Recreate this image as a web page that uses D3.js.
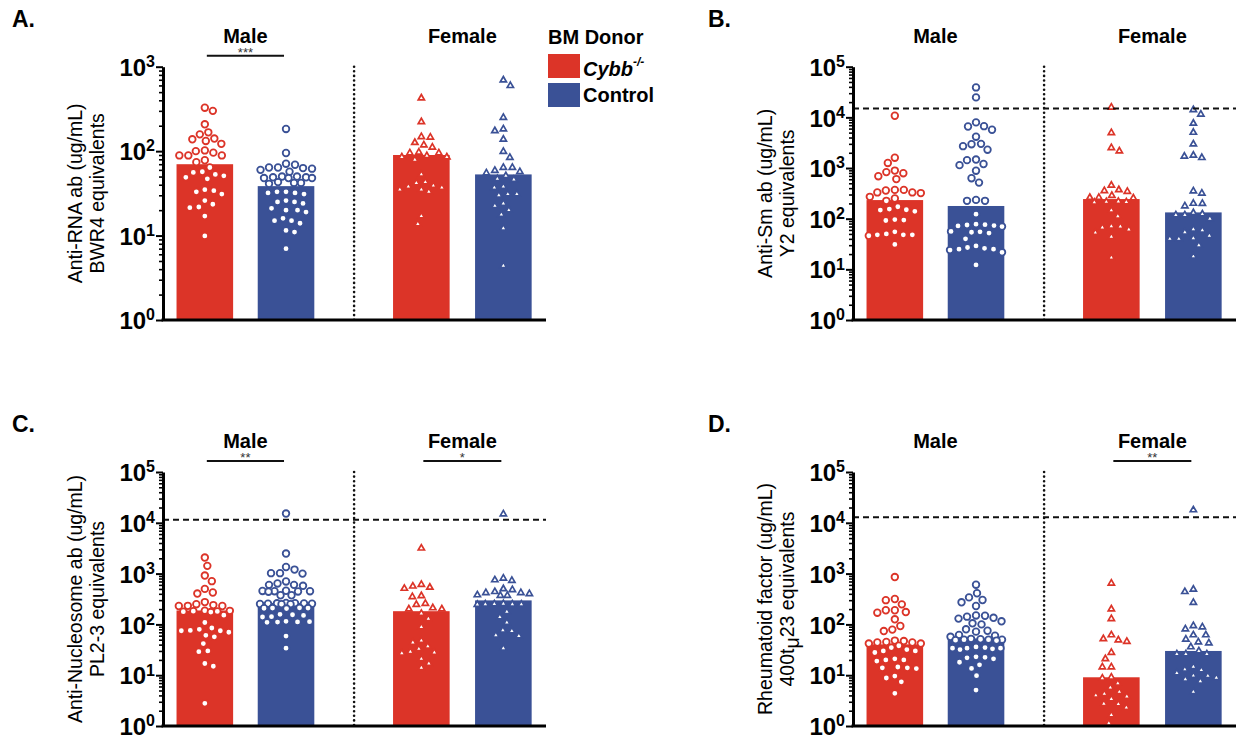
<!DOCTYPE html>
<html>
<head>
<meta charset="utf-8">
<script src="https://cdn.jsdelivr.net/npm/d3@7"></script>
<style>
  body { margin: 0; background: #fff; }
  text { font-family: "Liberation Sans", Arial, Helvetica, sans-serif; }
</style>
</head>
<body>
<script>
// BM donor chimera autoantibody panels (A-D)

var groups = ["Male", "Female"];
var donors = ["Cybb", "Control"];
var red = "#dc3428", blue = "#3a5196";

// A. Anti-RNA
var rnaMaleCybb = [327, 300, 208, 167, 158, 141, 132, 138, 122, 100, 102, 96, 89, 89, 89, 74, 78, 64, 56, 57, 53, 51, 49, 47, 35, 34, 33, 31, 26, 23.5, 21.4, 21.8, 17, 9.9];
var rnaMaleCtrl = [183, 95, 69, 64, 62, 60, 63, 64, 71, 57, 50, 49, 48, 48, 49, 50, 48, 42, 42, 43, 41, 32, 33, 31, 32, 33, 25, 25, 24, 26, 20, 19, 20, 21, 15, 14, 16, 15, 11.5, 11, 7];
var rnaFemaleCybb = [424, 222, 148, 146, 126, 111, 118, 95, 88, 85, 79, 85, 95, 97, 53, 43, 39, 37, 35, 33, 35, 38, 42, 17, 13.7];
var rnaFemaleCtrl = [693, 596, 250, 174, 183, 138, 99, 84, 64, 59, 55, 64, 57, 51, 46, 47, 37, 38, 31, 30, 31, 24, 22.5, 20, 17.7, 12.2, 4.4];
var rnaBars = [70, 38.5, 90, 53];

// B. Anti-Sm
var smMaleCybb = [10770, 1600, 1260, 890, 790, 830, 690, 605, 360, 330, 370, 370, 320, 330, 250, 270, 225, 172, 148, 150, 155, 140, 94, 92, 96, 55, 50, 48, 46, 48, 48, 31];
var smMaleCtrl = [39000, 24800, 7960, 6700, 6600, 5700, 4150, 3000, 2700, 2950, 2300, 1430, 1470, 1200, 1140, 885, 630, 515, 225, 225, 235, 123, 75, 78, 72, 70, 76, 73, 55, 54, 56, 52, 40, 27, 25, 24, 25, 26, 29, 21.7, 12.2];
var smFemaleCybb = [15800, 4970, 2160, 2510, 455, 343, 370, 355, 260, 255, 262, 285, 213, 210, 215, 218, 146, 112, 71, 67, 70, 61, 53, 44, 17];
var smFemaleCtrl = [14100, 11500, 7600, 5040, 2970, 1780, 1600, 1700, 352, 318, 199, 178, 200, 123, 118, 100, 118, 130, 59, 46, 40, 40, 54, 62, 41, 30, 18];
var smBars = [233, 178, 244, 133];
var smCutoff = 15000;

// C. Anti-Nucleosome
var nucMaleCybb = [2070, 1420, 915, 710, 500, 405, 425, 275, 250, 230, 240, 230, 232, 185, 175, 182, 178, 180, 186, 152, 109, 80, 70, 75, 75, 76, 85, 57, 42, 61, 29, 30, 17, 15, 2.8];
var nucMaleCtrl = [15200, 2480, 1350, 1200, 1020, 1000, 1020, 700, 600, 575, 600, 640, 450, 445, 455, 440, 450, 460, 375, 375, 260, 250, 255, 262, 258, 250, 252, 265, 256, 210, 205, 212, 208, 210, 155, 158, 150, 140, 142, 112, 110, 115, 113, 111, 59, 34];
var nucFemaleCybb = [3160, 565, 510, 535, 610, 350, 365, 245, 258, 200, 200, 211, 164, 129, 89, 44, 48, 33, 28, 27, 29, 37, 21, 17, 14];
var nucFemaleCtrl = [14900, 810, 730, 750, 500, 440, 420, 480, 420, 400, 380, 370, 370, 250, 252, 248, 255, 250, 246, 177, 139, 109, 77, 74, 61, 59, 34];
var nucBars = [188, 265, 182, 297];
var nucCutoff = 11500;

// D. Rheumatoid factor
var rfMaleCybb = [855, 300, 316, 248, 190, 170, 175, 190, 126, 79, 74, 93, 47, 44, 42, 45, 42, 44, 48, 32, 28, 35, 38, 30, 30, 20, 20, 21, 19, 14, 14, 14.5, 13.5, 8.8, 9.6, 7.4, 4.4];
var rfMaleCtrl = [605, 410, 340, 272, 230, 302, 148, 142, 115, 100, 105, 130, 135, 150, 80, 72, 60, 57, 62, 75, 50, 50, 49, 51, 50, 48, 52, 34, 34, 35, 33, 34, 32, 36, 22.5, 22, 23, 21, 13.6, 16, 18, 9.8, 5.1];
var rfFemaleCybb = [645, 200, 129, 62, 49, 46, 52, 28, 21, 14.5, 14.5, 9.1, 8.7, 6.9, 5.7, 4.7, 4.0, 4.3, 3.8, 3.4, 2.7, 2.3, 2.75, 1.65, 1.13];
var rfFemaleCtrl = [17900, 490, 440, 270, 89, 81, 94, 62, 51, 43, 45, 62, 36, 30, 26, 26, 26, 14.7, 12.6, 13, 11, 9.7, 8.3, 7.6, 8.9, 9.8, 4.7];
var rfBars = [40.5, 53, 9.1, 30];
var rfCutoff = 12900;

var panels = [
  {letter: "A.", ax: 163, top: 66.7, base: 320, max: 1e3,
   title: ["Anti-RNA ab (ug/mL)", "BWR4 equivalents"],
   series: [rnaMaleCybb, rnaMaleCtrl, rnaFemaleCybb, rnaFemaleCtrl], bars: rnaBars,
   cutoff: null, sig: ["***", null]},
  {letter: "B.", ax: 853, top: 66.7, base: 320, max: 1e5,
   title: ["Anti-Sm ab (ug/mL)", "Y2 equivalents"],
   series: [smMaleCybb, smMaleCtrl, smFemaleCybb, smFemaleCtrl], bars: smBars,
   cutoff: smCutoff, sig: [null, null]},
  {letter: "C.", ax: 163, top: 472, base: 726, max: 1e5,
   title: ["Anti-Nucleosome ab (ug/mL)", "PL2-3 equivalents"],
   series: [nucMaleCybb, nucMaleCtrl, nucFemaleCybb, nucFemaleCtrl], bars: nucBars,
   cutoff: nucCutoff, sig: ["**", "*"]},
  {letter: "D.", ax: 853, top: 472, base: 726, max: 1e5,
   title: ["Rheumatoid factor (ug/mL)", "400t\u03bc23 equivalents"],
   series: [rfMaleCybb, rfMaleCtrl, rfFemaleCybb, rfFemaleCtrl], bars: rfBars,
   cutoff: rfCutoff, sig: [null, "**"]}
];

var barPos = [0.51, 1.5, 3.15, 4.15];   // in x units
var dividerPos = 2.33, xEnd = 4.67, barW = 0.69;

var svg = d3.select("body").append("svg")
    .attr("width", 1237)
    .attr("height", 740);

// simple beeswarm: place each point as close to the centre as it fits
function swarm(vals, y, cx, dist, maxOff) {
  var pts = vals.map(function(v) { return {v: v, y: y(v)}; })
      .sort(function(a, b) { return a.y - b.y; });
  var placed = [];
  pts.forEach(function(p, i) {
    var best = null, bestD = -1, bestO = 0;
    for (var k = 0; k <= maxOff * 2 && best === null; k++) {
      var offs = k === 0 ? [0] : (i % 2 ? [k / 2, -k / 2] : [-k / 2, k / 2]);
      offs.forEach(function(o) {
        if (best !== null) return;
        var md = d3.min(placed, function(q) { return Math.hypot(q.dx - o, q.y - p.y); });
        if (md === undefined || md >= dist) best = o;
        else if (md > bestD) { bestD = md; bestO = o; }
      });
    }
    p.dx = best === null ? bestO : best;
    placed.push(p);
  });
  return placed.map(function(p) { return {v: p.v, y: p.y, x: cx + p.dx}; });
}

panels.forEach(function(P) {
  var g = svg.append("g");
  var x = d3.scaleLinear().domain([0, xEnd]).range([P.ax, P.ax + 383]);
  var y = d3.scaleLog().domain([1, P.max]).range([P.base, P.top]);
  var colors = [red, blue, red, blue];

  // bars
  g.selectAll(".bar")
      .data(P.bars)
      .enter()
    .append("rect")
      .attr("class", "bar")
      .attr("x", function(d, i) { return x(barPos[i] - barW / 2); })
      .attr("width", x(barW) - x(0))
      .attr("y", function(d) { return y(d); })
      .attr("height", function(d) { return P.base - y(d); })
      .style("fill", function(d, i) { return colors[i]; });

  // points
  P.series.forEach(function(vals, i) {
    var pts = swarm(vals, y, x(barPos[i]), 8.6, 26);
    if (i < 2) {
      g.selectAll(".pt" + i)
          .data(pts)
          .enter()
        .append("circle")
          .attr("cx", function(d) { return d.x; })
          .attr("cy", function(d) { return d.y; })
          .attr("r", 3.3)
          .style("fill", "#fff")
          .style("stroke", colors[i])
          .style("stroke-width", 1.8);
    } else {
      g.selectAll(".pt" + i)
          .data(pts)
          .enter()
        .append("path")
          .attr("d", d3.symbol(d3.symbolTriangle).size(17))
          .attr("transform", function(d) { return "translate(" + d.x + "," + d.y + ")"; })
          .style("fill", "#fff")
          .style("stroke", colors[i])
          .style("stroke-width", 1.7);
    }
  });

  // cutoff line
  if (P.cutoff) {
    g.append("line")
        .attr("x1", P.ax).attr("x2", x(xEnd))
        .attr("y1", y(P.cutoff)).attr("y2", y(P.cutoff))
        .style("stroke", "#111").style("stroke-width", 2)
        .style("stroke-dasharray", "6,4");
  }

  // divider between sexes
  g.append("line")
      .attr("x1", x(dividerPos)).attr("x2", x(dividerPos))
      .attr("y1", P.top).attr("y2", P.base)
      .style("stroke", "#111").style("stroke-width", 2.6)
      .style("stroke-linecap", "round")
      .style("stroke-dasharray", "0,4.6");

  // y axis: minor then major ticks
  var decades = Math.round(Math.log10(P.max));
  var minor = [], major = [];
  for (var k = 0; k <= decades; k++) {
    major.push(Math.pow(10, k));
    if (k < decades) for (var m = 2; m <= 9; m++) minor.push(m * Math.pow(10, k));
  }
  var gMinor = g.append("g")
      .attr("transform", "translate(" + P.ax + ",0)")
      .call(d3.axisLeft(y).tickValues(minor).tickSize(4).tickSizeOuter(0).tickFormat(""));
  gMinor.selectAll("line").style("stroke", "#000").style("stroke-width", 1.6);
  gMinor.select(".domain").remove();

  var gMajor = g.append("g")
      .attr("transform", "translate(" + P.ax + ",0)")
      .call(d3.axisLeft(y).tickValues(major).tickSize(7).tickSizeOuter(0).tickPadding(1));
  gMajor.select(".domain").style("stroke", "#000").style("stroke-width", 3);
  gMajor.selectAll(".tick line").style("stroke", "#000").style("stroke-width", 2);
  gMajor.selectAll(".tick text").each(function(d) {
    var t = d3.select(this).text("")
        .attr("font-size", "24px").attr("font-weight", "bold").attr("fill", "#000")
        .attr("dy", "0.36em");
    t.append("tspan").text("10");
    t.append("tspan").attr("dy", "-0.55em").attr("font-size", "16px")
        .text(Math.round(Math.log10(d)));
  });

  // x baseline
  g.append("line")
      .attr("x1", P.ax - 1.5).attr("x2", x(xEnd))
      .attr("y1", P.base).attr("y2", P.base)
      .style("stroke", "#000").style("stroke-width", 3);

  // axis title
  P.title.forEach(function(t, i) {
    var lbl = g.append("text")
        .attr("transform", "translate(" + (P.ax - 81 + i * 22) + "," + ((P.top + P.base) / 2) + ") rotate(-90)")
        .attr("text-anchor", "middle")
        .attr("font-size", "19.5px")
        .attr("fill", "#000");
    if (t.indexOf("\u03bc") > -1) {
      var parts = t.split("\u03bc");
      lbl.append("tspan").text(parts[0]);
      lbl.append("tspan").attr("dy", "0.25em").text("\u03bc");
      lbl.append("tspan").attr("dy", "-0.25em").text(parts[1]);
    } else {
      lbl.text(t);
    }
  });

  // group labels and significance bars
  groups.forEach(function(name, gi) {
    var c0 = x(barPos[gi * 2]), c1 = x(barPos[gi * 2 + 1]);
    g.append("text")
        .attr("x", (c0 + c1) / 2).attr("y", P.top - 24)
        .attr("text-anchor", "middle")
        .attr("font-size", "20px").attr("font-weight", "bold")
        .text(name);
    if (P.sig[gi]) {
      var ly = P.top - 11;
      g.append("line")
          .attr("x1", c0 + 2).attr("x2", c1 - 2)
          .attr("y1", ly).attr("y2", ly)
          .style("stroke", "#111").style("stroke-width", 2);
      g.append("text")
          .attr("x", (c0 + c1) / 2).attr("y", ly + 1)
          .attr("text-anchor", "middle")
          .attr("font-size", "13px").attr("fill", "#333")
          .text(P.sig[gi]);
    }
  });

  // panel letter
  svg.append("text")
      .attr("x", P.ax < 500 ? 12 : 708).attr("y", P.top - 40)
      .attr("font-size", "23px").attr("font-weight", "bold")
      .text(P.letter);
});

// legend
var legend = svg.append("g").attr("transform", "translate(548,44)");
legend.append("text")
    .attr("font-size", "20px").attr("font-weight", "bold")
    .text("BM Donor");
donors.forEach(function(d, i) {
  legend.append("rect")
      .attr("x", 0).attr("y", 10 + i * 29)
      .attr("width", 32).attr("height", 24)
      .style("fill", i === 0 ? red : blue);
  var t = legend.append("text")
      .attr("x", 35).attr("y", 32 + i * 26)
      .attr("font-size", "20px").attr("font-weight", "bold");
  if (i === 0) {
    t.append("tspan").attr("font-style", "italic").text(d);
    t.append("tspan").attr("font-style", "italic").attr("font-size", "12px")
        .attr("dy", "-0.8em").text("-/-");
  } else {
    t.text(d);
  }
});
</script>
</body>
</html>
